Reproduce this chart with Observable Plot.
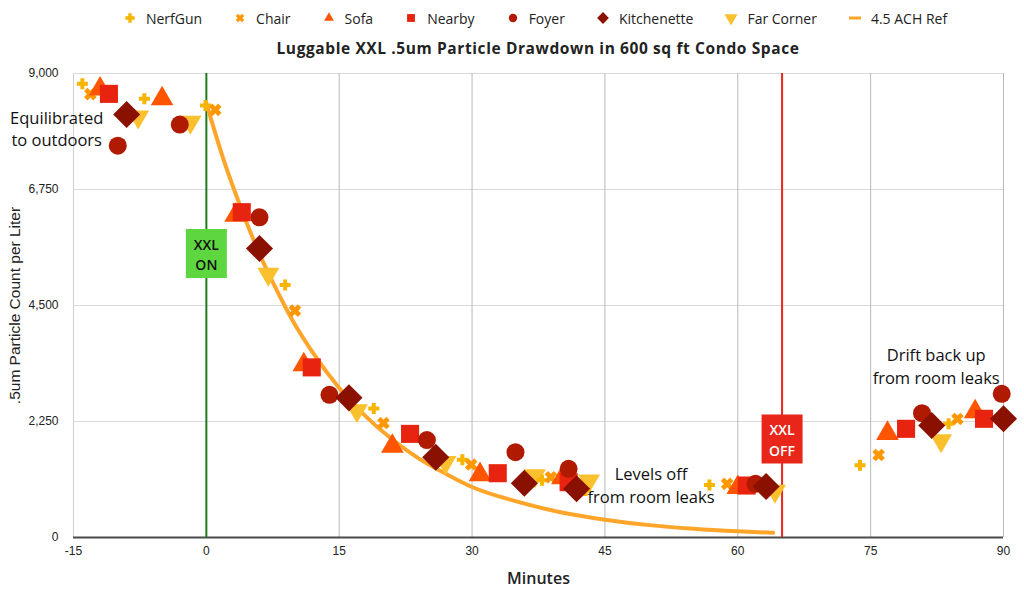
<!DOCTYPE html>
<html><head><meta charset="utf-8">
<script src="https://cdn.jsdelivr.net/npm/d3@7"></script>
<script src="https://cdn.jsdelivr.net/npm/@observablehq/plot@0.6"></script>
<style>
body{margin:0;background:#fff;font-family:"Open Sans",sans-serif;color:#222;}
#legend{height:36px;display:flex;align-items:center;justify-content:center;padding-left:46px;gap:31px;font-size:14px;}
.item{display:flex;align-items:center;gap:9px;}
.item svg{display:block}
#title{height:24px;text-align:center;font-weight:700;font-size:15.5px;line-height:24px;padding-left:52px;letter-spacing:0.6px;}
</style></head><body>
<div id="legend"></div>
<div id="title"></div>
<div id="chart"></div>
<script>
// ---- data ----
const titleText = "Luggable XXL .5um Particle Drawdown in 600 sq ft Condo Space";
const xTitle = "Minutes";
const yTitle = ".5um Particle Count per Liter";
const xTicks = [-15, 0, 15, 30, 45, 60, 75, 90];
const xGridTicks = [15, 30, 45, 60, 75, 90];
const yTicks = [0, 2250, 4500, 6750, 9000];

const seriesNames = ["NerfGun", "Chair", "Sofa", "Nearby", "Foyer", "Kitchenette", "Far Corner"];
const seriesColors = ["#f7b500", "#ff9800", "#ff5500", "#e8230f", "#b01a00", "#8a1000", "#fbc02d"];

const nerfGunTimes  = [-14, -7, -0.1, 8.9, 18.9, 28.9, 37.9, 42.8, 56.8, 73.8, 83.8];
const nerfGunValues = [8800, 8510, 8380, 4900, 2500, 1510, 1110, 910, 1020, 1400, 2205];
const chairTimes  = [-13.1, 1.0, 10, 20, 29.9, 38.9, 58.8, 75.9, 84.8];
const chairValues = [8600, 8295, 4400, 2220, 1415, 1170, 1040, 1600, 2300];
const sofaTimes  = [-12, -5, 3.3, 11, 21, 30.9, 40.2, 60, 76.9, 86.8];
const sofaValues = [8700, 8510, 6250, 3350, 1770, 1220, 1160, 970, 2020, 2440];
const nearbyTimes  = [-11, 4, 11.9, 23, 32.9, 40.9, 61, 79, 87.8];
const nearbyValues = [8605, 6310, 3300, 2010, 1247, 1073, 1008, 2108, 2302];
const foyerTimes  = [-10, -3, 6, 13.9, 24.9, 34.9, 40.9, 62, 80.8, 89.8];
const foyerValues = [7600, 8010, 6210, 2767, 1890, 1655, 1332, 1041, 2411, 2787];
const kitchenetteTimes  = [-9, 6, 16.1, 25.9, 35.9, 41.8, 63.2, 81.9, 90];
const kitchenetteValues = [8204, 5605, 2709, 1558, 1053, 945, 989, 2172, 2302];
const farCornerTimes  = [-7.7, -1.8, 7, 17, 27, 37.1, 43.2, 64.2, 82.95];
const farCornerValues = [8160, 8060, 5110, 2460, 1460, 1200, 1100, 900, 1880];

const refName = "4.5 ACH Ref";
const refTimes  = [0, 2, 4, 6, 8, 10, 12, 15, 18, 21, 24, 27, 30, 35, 40, 45, 50, 55, 60, 64];
const refValues = [8420, 7300, 6350, 5500, 4780, 4130, 3590, 2900, 2350, 1900, 1530, 1240, 980, 700, 490, 345, 240, 170, 120, 90];

const switchTimes  = [0, 65];
const switchLabels = ["XXL\nON", "XXL\nOFF"];
const switchLabelY = [5510, 1910];

const noteLabels = ["Equilibrated\nto outdoors", "Levels off\nfrom room leaks", "Drift back up\nfrom room leaks"];
const noteTimes  = [-16.9, 50.2, 82.4];
const noteValues = [7950, 1040, 3340];

// ---- styles / symbols ----
function polySym(pts){ return {draw(ctx){ ctx.moveTo(pts[0][0], pts[0][1]); for (const p of pts.slice(1)) ctx.lineTo(p[0], p[1]); ctx.closePath(); }}; }
const plusPts = (a, w) => [[-w,-a],[w,-a],[w,-w],[a,-w],[a,w],[w,w],[w,a],[-w,a],[-w,w],[-a,w],[-a,-w],[-w,-w]];
const rot45 = pts => pts.map(([x,y]) => [(x - y) * Math.SQRT1_2, (x + y) * Math.SQRT1_2]);
const plusSym = polySym(plusPts(5.5, 2));
const timesSym = polySym(rot45(plusPts(6.5, 2.4)));
const downTri = polySym([[-11,-6.3],[11,-6.3],[0,12.7]]);
const rectSym = (w, h) => ({draw(ctx){ ctx.rect(-w/2, -h/2, w, h); }});

const seriesSymbols = [plusSym, timesSym, "triangle", "square", "circle", "diamond2", downTri];
const seriesR = [6, 6, 8.4, 10.2, 9, 12.2, 8];
const seriesTimes = [nerfGunTimes, chairTimes, sofaTimes, nearbyTimes, foyerTimes, kitchenetteTimes, farCornerTimes];
const seriesValues = [nerfGunValues, chairValues, sofaValues, nearbyValues, foyerValues, kitchenetteValues, farCornerValues];
const refColor = "#ffa52a";
const switchFill = ["#5dd640", "#e8261a"];
const switchLine = ["#1f7a1f", "#e8261a"];
const switchText = ["#111", "#fff"];

const series = seriesNames.map((name, i) => ({
  name, color: seriesColors[i], symbol: seriesSymbols[i], r: seriesR[i],
  data: seriesTimes[i].map((t, j) => ({t, v: seriesValues[i][j]}))
}));
const refCurve = refTimes.map((t, i) => ({t, v: refValues[i]}));
const switches = switchTimes.map((t, i) => ({t, label: switchLabels[i], y: switchLabelY[i], i}));
const notes = noteLabels.map((label, i) => ({label, t: noteTimes[i], v: noteValues[i]}));

// ---- legend + title ----
const legend = d3.select("#legend");
const legendScale = [1.0, 0.8, 0.7, 0.7, 0.75, 0.7, 0.7];
series.forEach((s, i) => {
  const item = legend.append("div").attr("class", "item");
  const svg = item.append("svg").attr("width", 14).attr("height", 14);
  const type = typeof s.symbol === "string" ? {triangle: d3.symbolTriangle, square: d3.symbolSquare, circle: d3.symbolCircle, diamond2: d3.symbolDiamond2}[s.symbol] : s.symbol;
  svg.append("path").attr("transform", `translate(7,7) scale(${legendScale[i] * (typeof s.symbol === "string" ? 1 : 0.85)})`)
    .attr("d", d3.symbol(type, typeof s.symbol === "string" ? Math.PI * (s.r * 0.62) ** 2 : 64)())
    .attr("fill", s.color);
  item.append("span").text(s.name);
});
{
  const item = legend.append("div").attr("class", "item");
  const svg = item.append("svg").attr("width", 14).attr("height", 14);
  svg.append("line").attr("x1", 1).attr("x2", 13).attr("y1", 7).attr("y2", 7).attr("stroke", refColor).attr("stroke-width", 3);
  item.append("span").text(refName);
}
d3.select("#title").text(titleText);

// ---- chart ----
const marks = [
  Plot.gridY(yTicks, {stroke: "#dadada", strokeOpacity: 1}),
  Plot.gridX(xGridTicks, {stroke: "#b8b8b8", strokeOpacity: 1}),
  Plot.ruleX([xTicks[0]], {stroke: "#cfcfcf"}),
  Plot.axisY(yTicks, {tickSize: 0, tickPadding: 15, tickFormat: d3.format(","), label: null, fontSize: 12}),
  Plot.axisX(xTicks, {tickSize: 0, tickPadding: 9, tickFormat: d => String(d), label: null, fontSize: 12}),
  Plot.ruleY([0], {stroke: "#4a4a4a", strokeWidth: 2}),
  Plot.ruleX(switches, {x: "t", stroke: d => switchLine[d.i], strokeWidth: 2}),
  Plot.line(refCurve, {x: "t", y: "v", stroke: refColor, strokeWidth: 4, curve: "monotone-x"}),
];
const drawOrder = [6, 0, 1, 2, 3, 4, 5];
for (const i of drawOrder) {
  const s = series[i];
  marks.push(Plot.dot(s.data, {x: "t", y: "v", symbol: s.symbol, r: s.r, fill: s.color, stroke: "none"}));
}
marks.push(
  Plot.dot(switches, {x: "t", y: "y", symbol: rectSym(41, 49), r: 10, fill: d => switchFill[d.i], stroke: "none"}),
  Plot.text(switches, {x: "t", y: "y", text: "label", fill: d => switchText[d.i], fontSize: 14, fontWeight: 600, lineHeight: 1.45, fontFamily: "Open Sans"}),
  Plot.text(notes, {x: "t", y: "v", text: "label", fontSize: 16.5, lineHeight: 1.38, fill: "#111", fontFamily: "Open Sans"}),
  Plot.text([xTitle], {text: d => d, frameAnchor: "bottom", dy: 41, lineAnchor: "middle", textAnchor: "middle", fontSize: 16, fontWeight: 600, fontFamily: "Open Sans", fill: "#222"}),
  Plot.text([yTitle], {text: d => d, frameAnchor: "left", dx: -58, rotate: -90, textAnchor: "middle", lineAnchor: "middle", fontSize: 15.5, fill: "#222"})
);

const chart = Plot.plot({
  width: 1024, height: 538,
  marginTop: 13, marginBottom: 61, marginLeft: 73, marginRight: 21,
  style: {fontFamily: "'Liberation Sans', Arial, sans-serif", fontSize: "12px", color: "#222", background: "#fff", overflow: "visible"},
  x: {domain: [-15, 90]},
  y: {domain: [0, 9000]},
  color: {type: "identity"},
  marks
});
document.getElementById("chart").append(chart);
</script>
</body></html>
